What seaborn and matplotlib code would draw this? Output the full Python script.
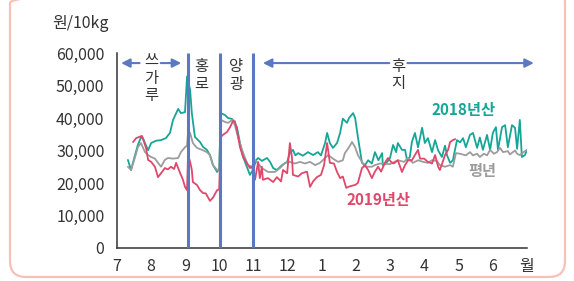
import numpy as np
import pandas as pd
import matplotlib
matplotlib.use("Agg")
import matplotlib.pyplot as plt
from matplotlib.patches import FancyBboxPatch
from matplotlib.transforms import IdentityTransform
import seaborn as sns

# ---- data (x = months since 1 July, y = won / 10kg) ----
m2018 = [0.32, 0.41, 0.50, 0.61, 0.70, 0.76, 0.85, 0.91, 1.00, 1.14, 1.29, 1.43, 1.55, 1.64, 1.79, 1.87, 1.99,
         2.05, 2.14, 2.19, 2.28, 2.43, 2.52, 2.63, 2.72, 2.81, 2.93, 2.99, 3.04, 3.16, 3.25, 3.37, 3.42, 3.51,
         3.60, 3.69, 3.80, 3.89, 3.98, 4.07, 4.13, 4.24, 4.39, 4.48, 4.57, 4.68, 4.83, 4.98, 5.06, 5.15, 5.22,
         5.30, 5.44, 5.59, 5.74, 5.88, 5.97, 6.09, 6.15, 6.23, 6.32, 6.44, 6.53, 6.61, 6.73, 6.79, 6.91, 6.97,
         7.05, 7.17, 7.26, 7.35, 7.46, 7.55, 7.65, 7.76, 7.78, 7.87, 7.99, 8.08, 8.17, 8.22, 8.34, 8.43, 8.49,
         8.57, 8.63, 8.72, 8.81, 8.93, 9.01, 9.10, 9.22, 9.31, 9.40, 9.51, 9.60, 9.66, 9.75, 9.83, 9.95, 10.04,
         10.13, 10.21, 10.33, 10.42, 10.54, 10.62, 10.71, 10.83, 10.92, 11.00, 11.09, 11.15, 11.27, 11.36,
         11.44, 11.56, 11.65, 11.71, 11.79, 11.85, 11.94, 12.00]
v2018 = [27.1, 24.0, 27.5, 31.7, 34.0, 33.8, 31.5, 30.1, 32.3, 33.0, 33.2, 33.8, 35.4, 39.4, 42.8, 41.5, 41.8,
         52.8, 48.6, 41.5, 34.2, 32.6, 31.1, 30.2, 28.6, 25.5, 23.4, 24.5, 41.5, 40.9, 40.0, 39.7, 39.0, 37.2,
         32.3, 28.0, 25.0, 22.5, 24.0, 27.0, 27.7, 26.8, 27.7, 26.5, 24.6, 24.0, 25.5, 26.5, 29.2, 30.2, 28.5,
         29.2, 28.4, 29.5, 28.6, 29.5, 28.5, 32.3, 35.4, 32.3, 30.8, 32.3, 35.4, 39.8, 38.5, 40.0, 41.5, 40.0,
         34.2, 26.2, 25.5, 27.0, 26.0, 29.5, 27.0, 29.2, 25.5, 26.0, 27.7, 31.7, 29.5, 32.3, 30.2, 30.2, 27.0,
         28.0, 32.6, 35.4, 31.0, 37.0, 32.3, 33.8, 29.5, 33.2, 30.0, 28.0, 31.5, 28.5, 26.2, 27.0, 33.2, 32.5,
         33.8, 31.0, 34.8, 35.4, 30.8, 34.0, 30.2, 34.8, 30.2, 35.4, 37.2, 30.2, 37.2, 37.8,
         31.0, 37.8, 37.0, 30.5, 39.4, 28.0, 28.6, 30.2]

m2019 = [0.47, 0.56, 0.73, 0.85, 0.91, 1.00, 1.11, 1.20, 1.29, 1.40, 1.49, 1.58, 1.67, 1.73, 1.85, 1.93, 1.99,
         2.05, 2.08, 2.14, 2.19, 2.22, 2.34, 2.43, 2.52, 2.60, 2.72, 2.81, 2.93, 2.99, 3.04, 3.10, 3.22, 3.31,
         3.39, 3.45, 3.51, 3.60, 3.69, 3.80, 3.89, 3.95, 4.04, 4.13, 4.18, 4.24, 4.27, 4.42, 4.57, 4.68, 4.80,
         4.86, 4.98, 5.06, 5.12, 5.15, 5.30, 5.41, 5.56, 5.65, 5.74, 5.85, 5.97, 6.06, 6.15, 6.23, 6.35, 6.44,
         6.53, 6.61, 6.71, 6.82, 6.97, 7.05, 7.17, 7.26, 7.35, 7.46, 7.55, 7.64, 7.73, 7.84, 7.93, 8.02, 8.10,
         8.22, 8.34, 8.43, 8.52, 8.63, 8.72, 8.81, 8.87, 8.99, 9.10, 9.22, 9.31, 9.40, 9.45, 9.55, 9.60, 9.69,
         9.75, 9.83, 9.90]
v2019 = [32.6, 33.8, 34.5, 30.8, 27.1, 26.5, 25.0, 21.8, 23.0, 24.6, 24.2, 25.0, 24.3, 26.2, 23.0, 21.0, 18.8,
         17.8, 28.6, 26.5, 24.0, 20.3, 19.4, 17.8, 16.9, 16.8, 14.5, 15.5, 17.8, 18.0, 34.2, 34.8, 35.7, 37.2,
         39.0, 39.0, 36.3, 31.0, 28.0, 26.2, 24.6, 25.0, 21.0, 26.5, 21.5, 25.0, 21.0, 21.5, 20.3, 21.8, 20.5,
         24.0, 23.0, 32.3, 28.0, 22.5, 22.0, 23.0, 23.5, 18.8, 20.5, 21.8, 22.5, 25.5, 32.3, 26.2, 26.0, 23.4,
         21.5, 22.0, 18.5, 19.0, 19.4, 20.0, 24.6, 25.5, 24.0, 21.5, 23.5, 25.0, 23.5, 26.2, 27.7, 26.5, 26.0,
         27.0, 23.4, 25.5, 27.0, 27.0, 28.6, 30.2, 27.5, 27.5, 26.5, 26.0, 28.6, 25.0, 24.0, 27.0, 28.6, 30.2,
         32.6, 33.2, 33.5]

mavg = [0.32, 0.41, 0.53, 0.61, 0.70, 0.82, 0.91, 1.00, 1.11, 1.20, 1.29, 1.40, 1.49, 1.64, 1.79, 1.87, 1.99,
        2.05, 2.08, 2.14, 2.22, 2.34, 2.49, 2.63, 2.72, 2.81, 2.93, 2.99, 3.04, 3.16, 3.25, 3.37, 3.45, 3.54,
        3.66, 3.75, 3.83, 3.95, 4.04, 4.13, 4.24, 4.42, 4.62, 4.77, 4.92, 5.06, 5.21, 5.36, 5.50, 5.65, 5.80,
        5.94, 6.09, 6.18, 6.32, 6.47, 6.61, 6.67, 6.79, 6.88, 6.97, 7.05, 7.17, 7.26, 7.46, 7.55, 7.70, 7.99,
        8.22, 8.40, 8.52, 8.66, 8.81, 8.96, 9.10, 9.22, 9.36, 9.45, 9.60, 9.75, 9.83, 9.92, 10.04, 10.21,
        10.33, 10.42, 10.54, 10.62, 10.74, 10.83, 10.92, 11.03, 11.12, 11.21, 11.30, 11.44, 11.50, 11.65,
        11.71, 11.79, 11.90, 12.00]
vavg = [25.0, 24.0, 28.0, 31.0, 32.3, 29.5, 28.6, 28.0, 27.5, 26.2, 25.0, 27.1, 27.7, 27.5, 27.7, 29.5, 31.0,
        31.5, 35.7, 35.4, 32.3, 30.8, 30.2, 29.5, 28.6, 25.5, 24.0, 24.0, 39.4, 38.8, 38.5, 39.4, 37.8, 34.2,
        30.2, 27.7, 25.5, 25.0, 27.0, 26.0, 24.6, 23.4, 23.4, 24.6, 26.2, 26.5, 26.0, 26.5, 26.0, 26.5, 25.5,
        26.2, 27.7, 28.6, 27.5, 26.5, 27.0, 29.2, 31.0, 32.6, 31.0, 28.6, 26.5, 25.0, 25.0, 25.5, 26.0, 25.8,
        27.0, 26.5, 27.7, 26.2, 27.0, 26.5, 26.2, 27.0, 26.8, 25.5, 25.0, 25.5, 25.0, 29.2, 29.0, 28.5,
        29.5, 28.5, 29.0, 28.0, 29.0, 28.5, 30.2, 29.0, 29.5, 30.8, 29.5, 29.8, 28.8, 30.0,
        29.0, 28.6, 29.5, 30.2]

series_names = ["2018년산", "2019년산", "평년"]
month_labels = ["7", "8", "9", "10", "11", "12", "1", "2", "3", "4", "5", "6", "월"]
y_ticks = [0, 10000, 20000, 30000, 40000, 50000, 60000]
variety_bounds = [2.08, 3.01, 3.98]

# ---- styling ----
sns.set_style("white")
plt.rcParams["font.family"] = ["Noto Sans CJK KR", "DejaVu Sans"]

TEAL = "#17a597"
RED = "#e0476b"
GRAY = "#9c9c9c"
BLUE = "#5b78c3"
TXT = "#333333"

df = pd.concat([
    pd.DataFrame({"m": m2018, "v": np.array(v2018) * 1000, "s": series_names[0]}),
    pd.DataFrame({"m": mavg, "v": np.array(vavg) * 1000, "s": series_names[2]}),
    pd.DataFrame({"m": m2019, "v": np.array(v2019) * 1000, "s": series_names[1]}),
])

fig = plt.figure(figsize=(5.74, 2.81), dpi=100)
ax = fig.add_axes([117 / 574, 1 - 248 / 281, (527 - 117) / 574, (248 - 53) / 281])

sns.lineplot(data=df, x="m", y="v", hue="s", estimator=None, sort=False,
             palette={series_names[0]: TEAL, series_names[1]: RED, series_names[2]: GRAY},
             hue_order=[series_names[0], series_names[2], series_names[1]],
             linewidth=1.3, legend=False, ax=ax)

for b in variety_bounds:
    ax.plot([b, b], [0, 60000], color=BLUE, lw=2.2, zorder=5, solid_capstyle="butt")

ax.set_xlim(0, 12)
ax.set_ylim(0, 60000)
ax.set_xticks(range(13))
ax.set_xticklabels(month_labels)
ax.set_yticks(y_ticks)
ax.set_yticklabels([f"{t:,}" for t in y_ticks])
ax.set_xlabel("")
ax.set_ylabel("")
for sp in ["top", "right"]:
    ax.spines[sp].set_visible(False)
for sp in ["left", "bottom"]:
    ax.spines[sp].set_color(TXT)
    ax.spines[sp].set_linewidth(1.1)
ax.tick_params(axis="both", direction="in", length=3, width=1, color=TXT,
               labelsize=11.5, labelcolor=TXT)
ax.tick_params(axis="x", pad=7)
ax.tick_params(axis="y", pad=9)
ax.patch.set_alpha(0)

# arrows and variety labels
ay = 56900
ap = dict(arrowstyle="-|>", color=BLUE, lw=1.5, mutation_scale=13, shrinkA=0, shrinkB=0)
ax.annotate("", xy=(0.12, ay), xytext=(0.66, ay), arrowprops=ap, annotation_clip=False)
ax.annotate("", xy=(1.88, ay), xytext=(1.28, ay), arrowprops=ap, annotation_clip=False)
ax.annotate("", xy=(4.27, ay), xytext=(7.97, ay), arrowprops=ap, annotation_clip=False)
ax.annotate("", xy=(12.2, ay), xytext=(8.50, ay), arrowprops=ap, annotation_clip=False)

vt = dict(ha="center", va="center", fontsize=11, color=TXT, linespacing=1.05)
ax.text(0.99, 52300, "쓰\n가\n루", **vt)
ax.text(2.46, 53000, "홍\n로", **vt)
ax.text(3.48, 53000, "양\n광", **vt)
ax.text(8.22, 53200, "후\n지", **vt)

ax.text(10.13, 42500, "2018년산", ha="center", va="center", fontsize=11, fontweight="bold", color=TEAL)
ax.text(7.64, 14800, "2019년산", ha="center", va="center", fontsize=11, fontweight="bold", color=RED)
ax.text(10.68, 23800, "평년", ha="center", va="center", fontsize=11, fontweight="bold", color=GRAY)

fig.text(52 / 574, 1 - 23 / 281, "원/10kg", ha="left", va="center", fontsize=11.5, color=TXT)

frame = FancyBboxPatch((10, 4), 555, 290, boxstyle="round,pad=0,rounding_size=16",
                       transform=IdentityTransform(), fill=False, edgecolor="#f7c1b7", lw=1.6)
fig.add_artist(frame)

fig.savefig("out.png", dpi=100)
